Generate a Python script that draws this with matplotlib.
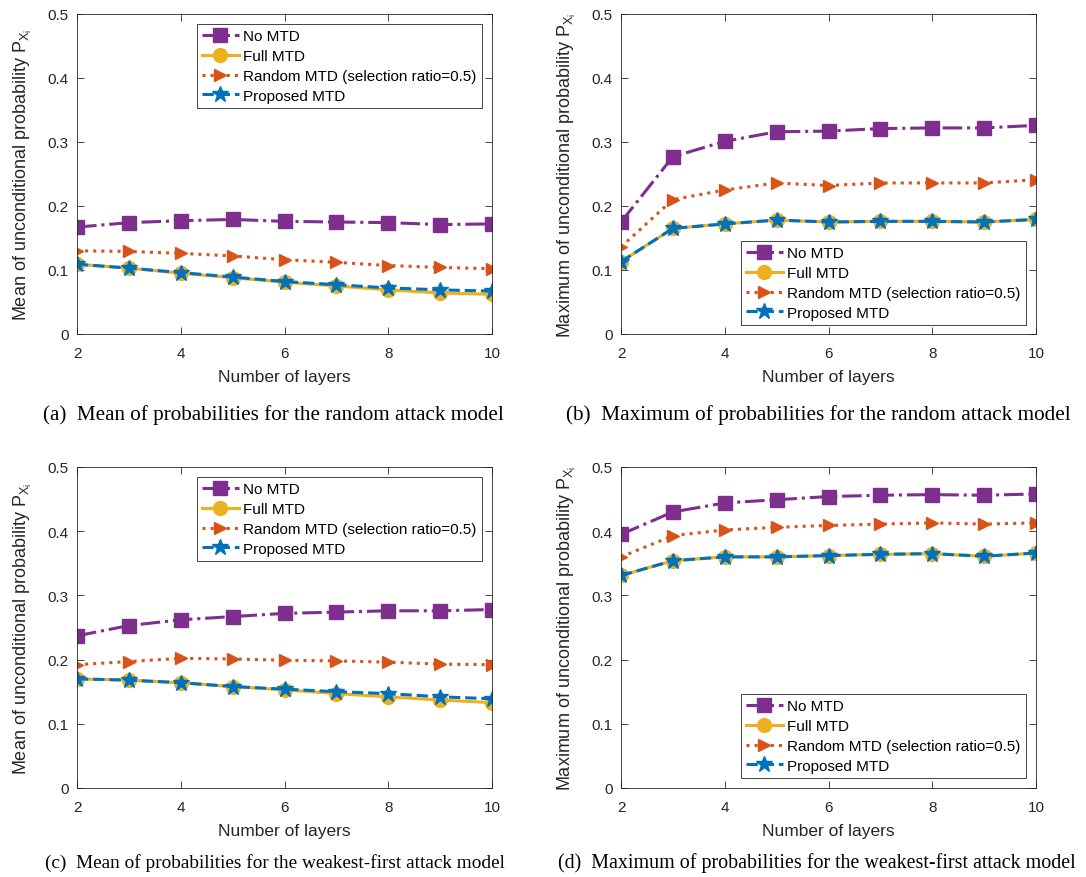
import matplotlib
matplotlib.use("Agg")
import matplotlib.pyplot as plt

plt.rcParams['font.family'] = ['Liberation Sans', 'DejaVu Sans']
plt.rcParams['mathtext.fontset'] = 'custom'
plt.rcParams['mathtext.rm'] = 'Liberation Sans'
plt.rcParams['mathtext.it'] = 'Liberation Sans'

layers = [2, 3, 4, 5, 6, 7, 8, 9, 10]
series_names = ["No MTD", "Full MTD", "Random MTD (selection ratio=0.5)", "Proposed MTD"]

# (a) mean, random attack
a_no = [0.167, 0.174, 0.177, 0.179, 0.176, 0.175, 0.174, 0.171, 0.172]
a_full = [0.109, 0.103, 0.095, 0.088, 0.081, 0.075, 0.069, 0.064, 0.062]
a_rand = [0.130, 0.129, 0.126, 0.122, 0.116, 0.112, 0.107, 0.104, 0.102]
a_prop = [0.109, 0.103, 0.096, 0.089, 0.082, 0.077, 0.072, 0.069, 0.067]
# (b) max, random attack
b_no = [0.175, 0.277, 0.301, 0.316, 0.317, 0.321, 0.322, 0.322, 0.326]
b_full = [0.113, 0.165, 0.172, 0.178, 0.175, 0.176, 0.176, 0.175, 0.179]
b_rand = [0.136, 0.210, 0.225, 0.236, 0.232, 0.236, 0.236, 0.236, 0.241]
b_prop = [0.113, 0.165, 0.172, 0.178, 0.175, 0.176, 0.176, 0.175, 0.179]
# (c) mean, weakest-first attack
c_no = [0.237, 0.253, 0.262, 0.267, 0.272, 0.274, 0.276, 0.276, 0.278]
c_full = [0.170, 0.168, 0.164, 0.158, 0.153, 0.147, 0.142, 0.137, 0.133]
c_rand = [0.192, 0.197, 0.202, 0.201, 0.199, 0.198, 0.196, 0.193, 0.192]
c_prop = [0.170, 0.168, 0.164, 0.158, 0.154, 0.150, 0.147, 0.142, 0.139]
# (d) max, weakest-first attack
d_no = [0.395, 0.430, 0.444, 0.449, 0.454, 0.456, 0.457, 0.456, 0.458]
d_full = [0.331, 0.354, 0.360, 0.360, 0.362, 0.364, 0.365, 0.361, 0.366]
d_rand = [0.360, 0.393, 0.402, 0.406, 0.409, 0.411, 0.413, 0.411, 0.413]
d_prop = [0.331, 0.354, 0.360, 0.360, 0.362, 0.364, 0.365, 0.361, 0.366]

ylabels = [r"Mean of unconditional probability P$_{\mathrm{X}_\mathrm{i}}$",
           r"Maximum of unconditional probability P$_{\mathrm{X}_\mathrm{i}}$",
           r"Mean of unconditional probability P$_{\mathrm{X}_\mathrm{i}}$",
           r"Maximum of unconditional probability P$_{\mathrm{X}_\mathrm{i}}$"]
captions = ["(a)  Mean of probabilities for the random attack model",
            "(b)  Maximum of probabilities for the random attack model",
            "(c)  Mean of probabilities for the weakest-first attack model",
            "(d)  Maximum of probabilities for the weakest-first attack model"]

data = [(a_no, a_full, a_rand, a_prop), (b_no, b_full, b_rand, b_prop),
        (c_no, c_full, c_rand, c_prop), (d_no, d_full, d_rand, d_prop)]

colors = ['#7E2F8E', '#EDB120', '#D95319', '#0072BD']
styles = ['-.', '-', ':', '--']
markers = ['s', 'o', '>', '*']
msizes = [9.5, 10, 9, 12]

fig = plt.figure(figsize=(10.86, 8.78), dpi=100)
W, H = 1086, 878
boxes = [(77, 15, 492, 335), (621, 15, 1036, 335), (77, 468, 492, 789), (621, 468, 1036, 789)]
legpos = [('upper right', (0.976, 0.969)), ('lower right', (0.976, 0.028)),
          ('upper right', (0.976, 0.969)), ('lower right', (0.976, 0.031))]
cap_xy = [(273, 415), (818, 415), (275, 863), (817, 863)]
cap_fs = [15.2, 15.3, 13.9, 14.4]
axc = '#262626'

for i in range(4):
    x0, y0, x1, y1 = boxes[i]
    ax = fig.add_axes([x0 / W, 1 - y1 / H, (x1 - x0) / W, (y1 - y0) / H])
    for j in range(4):
        ax.plot(layers, data[i][j], linestyle=styles[j], color=colors[j], marker=markers[j],
                markersize=msizes[j], linewidth=2.2, markerfacecolor=colors[j],
                markeredgecolor=colors[j], label=series_names[j])
    ax.set_xlim(2, 10)
    ax.set_ylim(0, 0.5)
    ax.set_xticks([2, 4, 6, 8, 10])
    ax.set_yticks([0, 0.1, 0.2, 0.3, 0.4, 0.5])
    ax.set_yticklabels(['0', '0.1', '0.2', '0.3', '0.4', '0.5'])
    ax.tick_params(direction='in', top=True, right=True, labelsize=11, colors=axc,
                   length=5, width=0.6)
    ax.tick_params(axis='x', pad=9)
    ax.tick_params(axis='y', pad=6)
    for s in ax.spines.values():
        s.set_color(axc)
        s.set_linewidth(0.6)
    ax.set_xlabel("Number of layers", fontsize=12.5, color=axc, labelpad=6)
    ax.set_ylabel(ylabels[i], fontsize=13, color=axc, labelpad=10)
    loc, bb = legpos[i]
    leg = ax.legend(loc=loc, bbox_to_anchor=bb, fontsize=11, fancybox=False,
                    edgecolor=axc, framealpha=1, handlelength=2.4, borderpad=0.35,
                    labelspacing=0.38, handletextpad=0.3, borderaxespad=0)
    leg.get_frame().set_linewidth(0.6)
    cx, cy = cap_xy[i]
    fig.text(cx / W, 1 - cy / H, captions[i], ha='center', va='center',
             fontsize=cap_fs[i], family='Liberation Serif', color='black')

fig.savefig("out.png", dpi=100)
